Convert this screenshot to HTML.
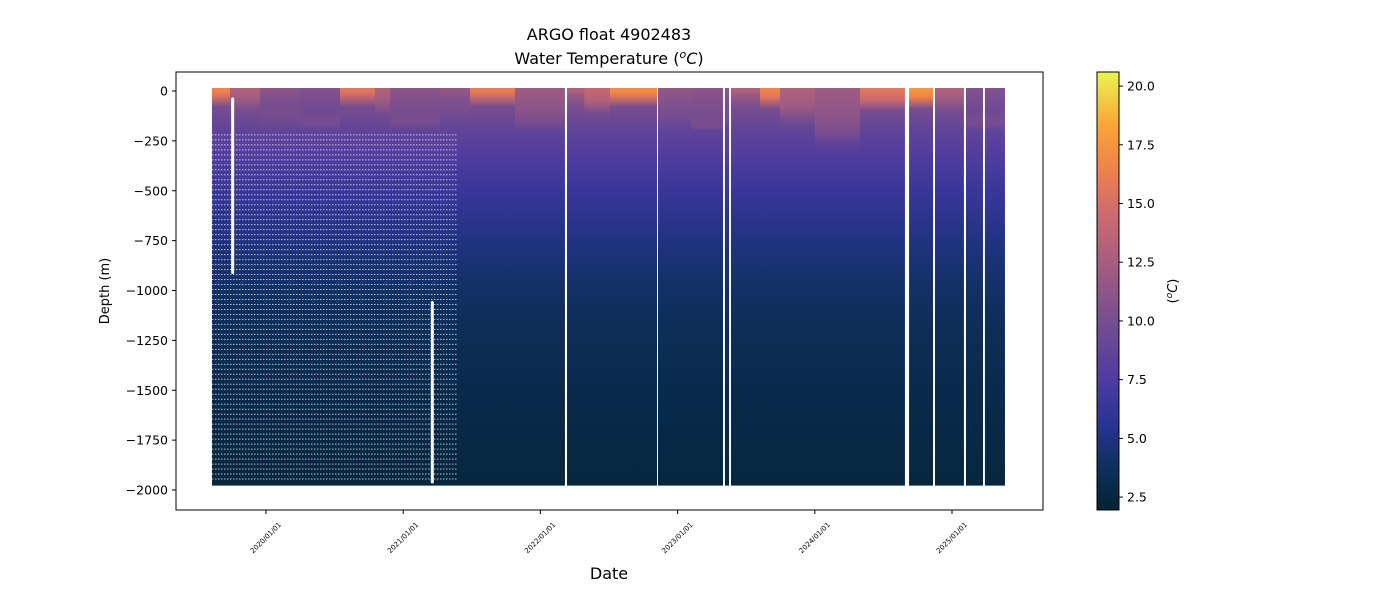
<!DOCTYPE html>
<html><head><meta charset="utf-8"><style>
html,body{margin:0;padding:0;background:#fff}
svg{display:block;font-family:"DejaVu Sans","Liberation Sans",sans-serif}
</style></head><body>
<svg id="chart" width="1400" height="600" viewBox="0 0 1400 600" xmlns="http://www.w3.org/2000/svg">
<defs id="defs"></defs>
<text x="609" y="40" font-size="16" text-anchor="middle" fill="#000">ARGO float 4902483</text>
<text x="609" y="64" font-size="16" text-anchor="middle" fill="#000">Water Temperature (<tspan font-style="italic" font-size="11" dy="-6">o</tspan><tspan font-style="italic" dy="6">C</tspan>)</text>
<g id="plot"></g>
<rect x="176" y="72" width="867" height="438" fill="none" stroke="#000" stroke-width="1"/>
<g id="yaxis"></g>
<g id="xaxis"></g>
<text x="109" y="291" font-size="13" text-anchor="middle" transform="rotate(-90 109 291)">Depth (m)</text>
<text x="609" y="579" font-size="16" text-anchor="middle">Date</text>
<g id="cbar"></g>
<text x="1177" y="291" font-size="13" text-anchor="middle" transform="rotate(-90 1177 291)">(<tspan font-style="italic" font-size="9" dy="-5">o</tspan><tspan font-style="italic" dy="5">C</tspan>)</text>
</svg>
<script>
// ---- data ----
const segStart = [2019.606,2019.738,2019.956,2020.248,2020.539,2020.794,2020.904,2021.268,2021.487,2021.815,2022.194,2022.32,2022.507,2022.857,2023.1,2023.345,2023.389,2023.601,2023.746,2024.0,2024.329,2024.687,2024.876,2025.102,2025.240];
const segEnd   = [2019.738,2019.956,2020.248,2020.539,2020.794,2020.904,2021.268,2021.487,2021.815,2022.179,2022.32,2022.507,2022.850,2023.1,2023.331,2023.375,2023.601,2023.746,2024.0,2024.329,2024.657,2024.862,2025.087,2025.226,2025.386];
const surfaceTemp = [16.5,13,11,10.5,15.5,13,11,11.5,16,12,13,14,17,11.5,11,11,13,16.5,13,12,15.5,17.5,13,10.5,10.5];
const mixedDepth  = [20,40,70,100,20,50,100,40,20,100,20,50,20,60,120,80,20,30,80,150,40,30,40,100,100];
const baseDepths = [200,300,500,750,1000,1250,1500,1750,2000];
const baseTemps  = [8.6,7.8,6.4,5.0,4.0,3.4,3.0,2.7,2.4];
const yTicks = [0,-250,-500,-750,-1000,-1250,-1500,-1750,-2000];
const xTickYears = [2020,2021,2022,2023,2024,2025];
const xTickLabels = ["2020/01/01","2021/01/01","2022/01/01","2023/01/01","2024/01/01","2025/01/01"];
const cbTicks = [2.5,5.0,7.5,10.0,12.5,15.0,17.5,20.0];
const cmin = 1.95, cmax = 20.6;

// ---- scales ----
const NS="http://www.w3.org/2000/svg";
const xS = yr => 266 + (yr-2020)*137.2;
const yS = d => 91 + (-d)*(399/2000);
const yD = dep => 91 + dep*(399/2000);
const cS = v => 510 - (v-cmin)/(cmax-cmin)*438;
const cmap=[[0,[4,35,51]],[0.1,[15,48,95]],[0.2,[42,52,148]],[0.3,[80,60,160]],[0.42,[115,76,145]],[0.55,[160,92,130]],[0.67,[205,105,112]],[0.78,[240,130,75]],[0.88,[250,165,55]],[1,[232,246,80]]];
function col(v){let t=Math.max(0,Math.min(1,(v-cmin)/(cmax-cmin)));for(let i=1;i<cmap.length;i++){if(t<=cmap[i][0]){const a=cmap[i-1],b=cmap[i];const f=(t-a[0])/(b[0]-a[0]);const c=a[1].map((x,k)=>Math.round(x+(b[1][k]-x)*f));return `rgb(${c})`;}}return 'rgb(232,246,80)';}
function el(t,a,p){const e=document.createElementNS(NS,t);for(const k in a)e.setAttribute(k,a[k]);(p||document.getElementById('plot')).appendChild(e);return e;}
const defs=document.getElementById('defs');
const top0=-15, bot0=1978, span=bot0-top0;

segStart.forEach((s,i)=>{
  const g=el('linearGradient',{id:'g'+i,x1:0,y1:0,x2:0,y2:1},defs);
  const stops=[[0,surfaceTemp[i]],[mixedDepth[i],surfaceTemp[i]-1],[mixedDepth[i]+60,Math.min(10,surfaceTemp[i])]];
  baseDepths.forEach((d,k)=>{if(d>mixedDepth[i]+60)stops.push([d,baseTemps[k]]);});
  stops.forEach(([d,v])=>{el('stop',{offset:Math.min(1,(d-top0)/span),'stop-color':col(v)},defs.lastChild);});
  const contiguous = i+1<segStart.length && Math.abs(segStart[i+1]-segEnd[i])<0.001;
  const w=Math.max(1,xS(segEnd[i])-xS(s))+(contiguous?1:0);
  const r=el('rect',{x:xS(s),y:yD(top0),width:w,height:yD(bot0)-yD(top0),fill:'url(#g'+i+')'});
  
  
});
for(let d=220; d<=1950; d+=25){
  const l=el('line',{x1:212,x2:458,y1:yD(d),y2:yD(d),stroke:'#fff','stroke-width':1,'stroke-dasharray':'1.5 1.5','stroke-opacity':0.7});
  
  
}
[[2019.757,40,910],[2021.212,1060,1960]].forEach(([yr,a,b])=>{
  const l=el('line',{x1:xS(yr),x2:xS(yr),y1:yD(a),y2:yD(b),stroke:'#fff','stroke-width':3,'stroke-linecap':'round'});
  
  
});

const ya=document.getElementById('yaxis');
yTicks.forEach(v=>{const y=yS(v);
  el('line',{x1:172,x2:176,y1:y,y2:y,stroke:'#000'},ya);
  const t=el('text',{x:168,y:y+4.5,'font-size':12.5,'text-anchor':'end'},ya);t.textContent=(v<0?'\u2212'+(-v):v);
  
  
});
const xa=document.getElementById('xaxis');
xTickYears.forEach((yr,i)=>{const x=xS(yr);
  el('line',{x1:x,x2:x,y1:510,y2:514,stroke:'#000'},xa);
  const t=el('text',{x:x,y:538,'font-size':7,'text-anchor':'middle','dominant-baseline':'middle',transform:`rotate(-45 ${x} 538)`},xa);t.textContent=xTickLabels[i];
  
  
});
const cb=document.getElementById('cbar');
const cg=el('linearGradient',{id:'cbg',x1:0,y1:1,x2:0,y2:0},defs);
cmap.forEach(([t,c])=>el('stop',{offset:t,'stop-color':`rgb(${c})`},cg));
el('rect',{x:1097,y:72,width:22,height:438,fill:'url(#cbg)',stroke:'#000','stroke-width':1},cb);
cbTicks.forEach(v=>{const y=cS(v);
  el('line',{x1:1119,x2:1123,y1:y,y2:y,stroke:'#000'},cb);
  const t=el('text',{x:1127,y:y+4.5,'font-size':12.5},cb);t.textContent=v.toFixed(1);
  
  
});
</script>
</body></html>
